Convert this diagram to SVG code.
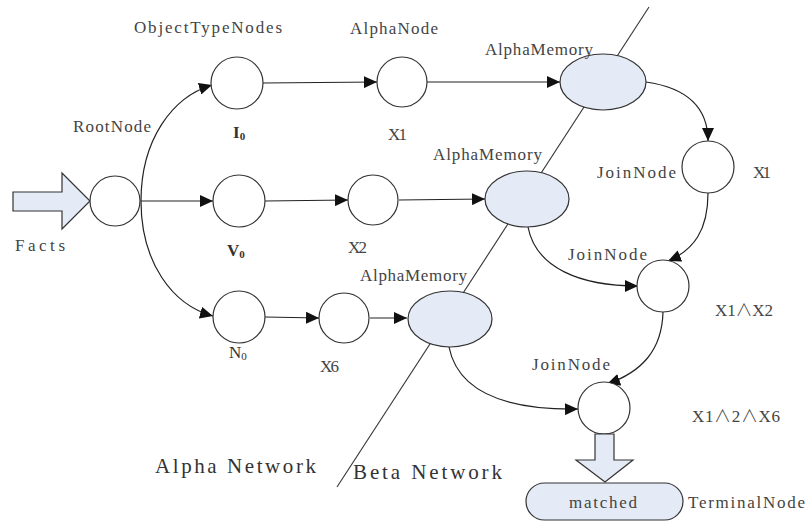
<svg xmlns="http://www.w3.org/2000/svg" width="806" height="521" viewBox="0 0 806 521">
<style>
.n{fill:#fff;stroke:#333;stroke-width:1.2}
.m{fill:#e4ebf6;stroke:#333;stroke-width:1.2}
.c{fill:none;stroke:#222;stroke-width:1.2}
.t{font-family:"Liberation Serif",serif;font-size:17px;fill:#444}
.big{font-family:"Liberation Serif",serif;font-size:21px;fill:#333}
.s{font-family:"Liberation Serif",serif;font-size:17px;fill:#333}
.sub{font-size:11px}
.w{font-family:"Noto Sans CJK SC",sans-serif;font-weight:300}
</style>
<defs>
<marker id="a" markerUnits="userSpaceOnUse" markerWidth="14" markerHeight="12" refX="13" refY="6" orient="auto">
<path d="M0,0 L13,6 L0,12 Z" fill="#111"/>
</marker>
</defs>
<rect width="806" height="521" fill="#fff"/>
<line x1="649" y1="7" x2="337" y2="487" stroke="#333" stroke-width="1.1"/>
<g id="connectors">
<path class="c" d="M141,201 C141,140 172,97 212,85" marker-end="url(#a)"/>
<path class="c" d="M141,201 L213,201" marker-end="url(#a)"/>
<path class="c" d="M141,201 C141,262 172,305 213,316" marker-end="url(#a)"/>
<path class="c" d="M263,83 L377,82" marker-end="url(#a)"/>
<path class="c" d="M427,82 L560,82" marker-end="url(#a)"/>
<path class="c" d="M265,201 L348,200" marker-end="url(#a)"/>
<path class="c" d="M399,200 L485,199" marker-end="url(#a)"/>
<path class="c" d="M265,317 L319,318" marker-end="url(#a)"/>
<path class="c" d="M370,318 L407,318" marker-end="url(#a)"/>
<path class="c" d="M646,82 C688,88 708,108 708,141" marker-end="url(#a)"/>
<path class="c" d="M708,193 C708,230 694,250 668,261" marker-end="url(#a)"/>
<path class="c" d="M528,227 C536,268 580,286 638,286" marker-end="url(#a)"/>
<path class="c" d="M663,312 C662,350 642,372 607,384" marker-end="url(#a)"/>
<path class="c" d="M449,347 C458,392 505,410 578,409" marker-end="url(#a)"/>
</g>
<g id="facts">
<path class="m" d="M13,192 L62,192 L62,173 L90,201 L62,229 L62,211 L13,211 Z"/>
<text class="t" x="15" y="251" textLength="50" lengthAdjust="spacing">Facts</text>
</g>
<g id="root"><circle class="n" cx="115" cy="201" r="25"/><text class="t" x="73" y="132" textLength="78" lengthAdjust="spacing">RootNode</text></g>
<g id="i0"><circle class="n" cx="237" cy="83" r="26"/><text class="s" x="233" y="138" font-weight="bold">I<tspan class="sub" dy="2">0</tspan></text></g>
<g id="v0"><circle class="n" cx="239" cy="201" r="26"/><text class="s" x="227" y="256" font-weight="bold">V<tspan class="sub" dy="2">0</tspan></text></g>
<g id="n0"><circle class="n" cx="239" cy="317" r="26"/><text class="s" x="229" y="358">N<tspan class="sub" dy="2">0</tspan></text></g>
<g id="x1"><circle class="n" cx="402" cy="82" r="25"/><text class="t" x="388" y="140" textLength="19" lengthAdjust="spacing">X1</text></g>
<g id="x2"><circle class="n" cx="373" cy="200" r="25"/><text class="t" x="348" y="253" textLength="19" lengthAdjust="spacing">X2</text></g>
<g id="x6"><circle class="n" cx="344" cy="318" r="25"/><text class="t" x="320" y="372" textLength="19" lengthAdjust="spacing">X6</text></g>
<g id="am1"><ellipse class="m" cx="603" cy="82" rx="43" ry="28"/></g>
<g id="am2"><ellipse class="m" cx="527" cy="199" rx="42" ry="28"/></g>
<g id="am3"><ellipse class="m" cx="450" cy="319" rx="42" ry="28"/></g>
<g id="j1"><circle class="n" cx="708" cy="167" r="26"/><text class="t" x="597" y="178" textLength="79" lengthAdjust="spacing">JoinNode</text><text class="t" x="753" y="178" textLength="18" lengthAdjust="spacing">X1</text></g>
<g id="j2"><circle class="n" cx="663" cy="286" r="26"/><text class="t" x="568" y="260" textLength="79" lengthAdjust="spacing">JoinNode</text><text class="t" x="715" y="316" textLength="58" lengthAdjust="spacing">X1<tspan class="w">∧</tspan>X2</text></g>
<g id="j3"><circle class="n" cx="604" cy="408" r="26"/><text class="t" x="532" y="370" textLength="78" lengthAdjust="spacing">JoinNode</text><text class="t" x="692" y="422" textLength="88" lengthAdjust="spacing">X1<tspan class="w">∧</tspan>2<tspan class="w">∧</tspan>X6</text></g>
<g id="terminal">
<path class="m" d="M595,434 L614,434 L614,460 L633,460 L605,482 L576,460 L595,460 Z"/>
<rect class="m" x="526" y="483" width="157" height="37" rx="18.5"/>
<text class="t" x="569" y="508" textLength="68" lengthAdjust="spacing">matched</text>
<text class="t" x="688" y="508" textLength="117" lengthAdjust="spacing">TerminalNode</text>
</g>
<g id="labels">
<text class="t" x="134" y="33" textLength="148" lengthAdjust="spacing">ObjectTypeNodes</text>
<text class="t" x="350" y="34" textLength="88" lengthAdjust="spacing">AlphaNode</text>
<text class="t" x="485" y="55" textLength="108" lengthAdjust="spacing">AlphaMemory</text>
<text class="t" x="433" y="160" textLength="109" lengthAdjust="spacing">AlphaMemory</text>
<text class="t" x="360" y="281" textLength="107" lengthAdjust="spacing">AlphaMemory</text>
<text class="big" x="155" y="473" textLength="161" lengthAdjust="spacing">Alpha Network</text>
<text class="big" x="353" y="479" textLength="149" lengthAdjust="spacing">Beta Network</text>
</g>
</svg>
